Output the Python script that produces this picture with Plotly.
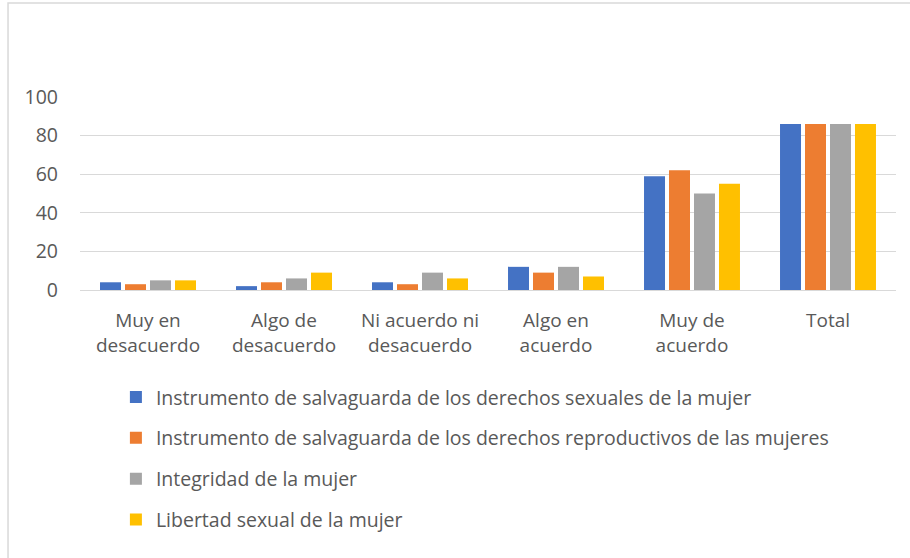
import plotly.graph_objects as go

# categorias del eje x
categorias = [
    "Muy en<br>desacuerdo",
    "Algo de<br>desacuerdo",
    "Ni acuerdo ni<br>desacuerdo",
    "Algo en<br>acuerdo",
    "Muy de<br>acuerdo",
    "Total",
]

# series
sexuales = [4, 2, 4, 12, 59, 86]
reproductivos = [3, 4, 3, 9, 62, 86]
integridad = [5, 6, 9, 12, 50, 86]
libertad = [5, 9, 6, 7, 55, 86]

nombres = [
    "Instrumento de salvaguarda de los derechos sexuales de la mujer",
    "Instrumento de salvaguarda de los derechos reproductivos de las mujeres",
    "Integridad de la mujer",
    "Libertad sexual de la mujer",
]
colores = ["#4472C4", "#ED7D31", "#A5A5A5", "#FFC000"]
y_ticks = [0, 20, 40, 60, 80, 100]

fig = go.Figure()
for i, (nombre, valores) in enumerate(zip(nombres, [sexuales, reproductivos, integridad, libertad])):
    fig.add_trace(go.Bar(
        name=nombre,
        x=categorias,
        y=valores,
        marker=dict(color=colores[i], line=dict(width=0)),
        legendgroup=f"g{i}",
    ))

fig.update_layout(
    width=910,
    height=558,
    margin=dict(l=80, r=14, t=97, b=268),
    paper_bgcolor="white",
    plot_bgcolor="white",
    barmode="group",
    bargap=0.265,
    bargroupgap=0.16,
    font=dict(family="Open Sans", size=19, color="#595959"),
    legend=dict(
        orientation="v",
        x=0.044, xanchor="left",
        y=-0.455, yanchor="top",
        font=dict(size=19.5, color="#595959"),
        tracegroupgap=12.5,
        bgcolor="rgba(0,0,0,0)",
    ),
    xaxis=dict(
        showline=True, linecolor="#d9d9d9", linewidth=1,
        showgrid=False, ticks="", tickfont=dict(size=19),
        ticklabelstandoff=13,
    ),
    yaxis=dict(
        range=[0, 100], tickvals=y_ticks, showgrid=True, gridcolor="#d9d9d9",
        gridwidth=1, zeroline=False, showline=False, ticks="",
        ticklabelstandoff=21, tickfont=dict(size=19.5),
    ),
    shapes=[dict(
        type="path", xref="paper", yref="paper",
        path="M -0.0882,-1.6 L -0.0882,1.487 L 1.2,1.487",
        line=dict(color="#d9d9d9", width=1.5),
    )],
)

fig.write_html("out.html", config={"displayModeBar": False},
               post_script="document.body.style.margin='0';")
